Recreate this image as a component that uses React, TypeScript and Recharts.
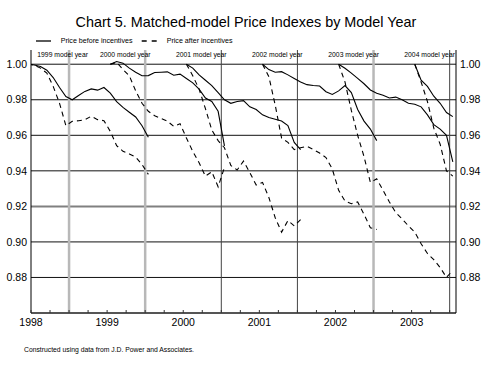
import { Line, LineChart, ReferenceLine, XAxis, YAxis } from 'recharts';

const FONT = '"Liberation Sans", Arial, Helvetica, sans-serif';

// x = months since start of Jan 1998; index points sit mid-month
const yearTicks = [0, 12, 24, 36, 48, 60];
const yearLabels = ['1998', '1999', '2000', '2001', '2002', '2003'];
const quarterTicks = [0, 3, 6, 9, 12, 15, 18, 21, 24, 27, 30, 33, 36, 39, 42, 45, 48, 51, 54, 57, 60, 63, 66];
const julyLines = [6, 18, 30, 42, 54, 66];
const julyGray = [true, true, false, false, true, false];
const yTicks = [0.88, 0.9, 0.92, 0.94, 0.96, 0.98, 1.0];

const modelYears = ['1999', '2000', '2001', '2002', '2003', '2004'];
const modelStarts = [-0.5, 12.5, 24.5, 36.5, 48.5, 60.5];
const modelLabelX = [37.3, 100, 176, 252, 328.3, 404.3];

const before1999 = [1.0, 0.9996, 0.9987, 0.9966, 0.9925, 0.9869, 0.9818, 0.98, 0.9824, 0.9847, 0.9861, 0.9854, 0.9869, 0.9837, 0.979, 0.9757, 0.973, 0.9703, 0.9654, 0.9589];
const after1999 = [1.0, 0.9995, 0.9978, 0.995, 0.9875, 0.978, 0.9654, 0.9679, 0.9682, 0.9688, 0.9707, 0.9688, 0.9682, 0.9622, 0.9542, 0.951, 0.9495, 0.9478, 0.9436, 0.938];
const before2000 = [1.0, 1.0015, 1.0006, 0.9978, 0.9955, 0.9935, 0.9936, 0.9953, 0.9955, 0.9957, 0.9938, 0.9944, 0.992, 0.9895, 0.986, 0.981, 0.979, 0.9735, 0.954];
const after2000 = [1.0, 1.001, 0.997, 0.9935, 0.985, 0.978, 0.9735, 0.971, 0.9695, 0.968, 0.965, 0.9665, 0.9585, 0.951, 0.9445, 0.937, 0.9395, 0.931, 0.942];
const before2001 = [1.0, 0.9978, 0.994, 0.991, 0.988, 0.984, 0.98, 0.978, 0.979, 0.9795, 0.976, 0.9745, 0.9715, 0.97, 0.969, 0.968, 0.9655, 0.956, 0.952];
const after2001 = [1.0, 0.9935, 0.986, 0.975, 0.963, 0.957, 0.953, 0.943, 0.9405, 0.9455, 0.939, 0.932, 0.9335, 0.925, 0.9136, 0.9055, 0.912, 0.909, 0.9125];
const before2002 = [1.0, 0.997, 0.9955, 0.9958, 0.994, 0.992, 0.99, 0.9885, 0.988, 0.9877, 0.9845, 0.983, 0.985, 0.988, 0.984, 0.9745, 0.968, 0.9635, 0.957];
const after2002 = [1.0, 0.993, 0.977, 0.9585, 0.956, 0.952, 0.953, 0.9538, 0.952, 0.95, 0.9475, 0.941, 0.929, 0.923, 0.9215, 0.9225, 0.9155, 0.908, 0.907];
const before2003 = [1.0, 0.9977, 0.995, 0.992, 0.989, 0.9855, 0.9837, 0.9825, 0.981, 0.9815, 0.98, 0.978, 0.9775, 0.976, 0.9715, 0.966, 0.9635, 0.96, 0.945];
const after2003 = [1.0, 0.99, 0.974, 0.96, 0.948, 0.9335, 0.9355, 0.929, 0.9225, 0.9165, 0.913, 0.909, 0.9055, 0.899, 0.8935, 0.89, 0.8856, 0.88, 0.884];
const before2004 = [1.0, 0.991, 0.9875, 0.982, 0.978, 0.9728, 0.9705];
const after2004 = [1.0, 0.99, 0.979, 0.964, 0.955, 0.94, 0.937];

const beforeSeries = [before1999, before2000, before2001, before2002, before2003, before2004];
const afterSeries = [after1999, after2000, after2001, after2002, after2003, after2004];

const toPoints = (start: number, vals: number[]) => vals.map((v, k) => ({ m: start + k, v }));

function XTick(props: any) {
  const { x, y, payload } = props;
  const idx = yearTicks.indexOf(payload.value);
  return (
    <g>
      <line x1={x} x2={x} y1={y} y2={y - 3} stroke="#333" strokeWidth={1} />
      {idx >= 0 && (
        <text x={x} y={y + 13} textAnchor="middle" fontSize={10.5} fontFamily={FONT} fill="#000">
          {yearLabels[idx]}
        </text>
      )}
    </g>
  );
}

export default function App() {
  return (
    <div style={{ position: 'absolute', left: 0, top: 0, width: 499, height: 376, background: '#fff' }}>
      <LineChart width={499} height={376} margin={{ top: 50, right: 0, bottom: 0, left: 0 }}>
        <XAxis
          type="number"
          dataKey="m"
          domain={[0, 67]}
          allowDataOverflow
          ticks={quarterTicks}
          interval={0}
          height={63}
          tickSize={0}
          tickMargin={0}
          tickLine={false}
          tick={<XTick />}
          axisLine={{ stroke: '#555', strokeWidth: 2 }}
        />
        <YAxis
          yAxisId="left"
          orientation="left"
          width={31}
          domain={[0.86, 1.008]}
          allowDataOverflow
          ticks={yTicks}
          tickFormatter={(v: number) => v.toFixed(2)}
          tickLine={false}
          tickSize={0}
          tickMargin={4}
          tick={{ fill: '#000', fontSize: 10.5, fontFamily: FONT }}
          axisLine={{ stroke: '#000' }}
        />
        <YAxis
          yAxisId="right"
          orientation="right"
          width={43}
          domain={[0.86, 1.008]}
          allowDataOverflow
          ticks={yTicks}
          tickFormatter={(v: number) => v.toFixed(2)}
          tickLine={false}
          tickSize={0}
          tickMargin={4}
          tick={{ fill: '#000', fontSize: 10.5, fontFamily: FONT }}
          axisLine={{ stroke: '#000' }}
        />
        {yTicks.map((t) => (
          <ReferenceLine
            key={`h${t}`}
            yAxisId="left"
            y={t}
            stroke={t === 0.92 ? '#808080' : '#111'}
            strokeWidth={t === 0.92 ? 2 : 1}
          />
        ))}
        {julyLines.map((m, i) => (
          <ReferenceLine
            key={`v${m}`}
            yAxisId="left"
            x={m}
            stroke={julyGray[i] ? '#b8b8b8' : '#444'}
            strokeWidth={julyGray[i] ? 2.5 : 1}
          />
        ))}
        {modelYears.map((y, i) => (
          <Line
            key={`b${y}`}
            yAxisId="left"
            data={toPoints(modelStarts[i], beforeSeries[i])}
            dataKey="v"
            type="linear"
            stroke="#000"
            strokeWidth={1.1}
            dot={false}
            isAnimationActive={false}
          />
        ))}
        {modelYears.map((y, i) => (
          <Line
            key={`a${y}`}
            yAxisId="left"
            data={toPoints(modelStarts[i], afterSeries[i])}
            dataKey="v"
            type="linear"
            stroke="#000"
            strokeWidth={1.1}
            strokeDasharray="5 4"
            dot={false}
            isAnimationActive={false}
          />
        ))}
      </LineChart>
      <svg
        width={499}
        height={376}
        style={{ position: 'absolute', left: 0, top: 0, pointerEvents: 'none' }}
        fontFamily={FONT}
      >
        <text x={246} y={27} textAnchor="middle" fontSize={14.4} fill="#000">
          Chart 5. Matched-model Price Indexes by Model Year
        </text>
        <line x1={36} x2={51} y1={41} y2={41} stroke="#000" strokeWidth={1.3} />
        <text x={60.7} y={43.4} fontSize={7.1} fill="#000">Price before incentives</text>
        <line x1={141.7} x2={157} y1={41} y2={41} stroke="#000" strokeWidth={1.3} strokeDasharray="5 5" />
        <text x={166.7} y={43.4} fontSize={7.1} fill="#000">Price after incentives</text>
        {modelYears.map((y, i) => (
          <text key={y} x={modelLabelX[i]} y={56.7} fontSize={6.8} fill="#000">
            {`${y} model year`}
          </text>
        ))}
        <text x={24} y={351.5} fontSize={6.8} fill="#000">
          Constructed using data from J.D. Power and Associates.
        </text>
      </svg>
    </div>
  );
}
